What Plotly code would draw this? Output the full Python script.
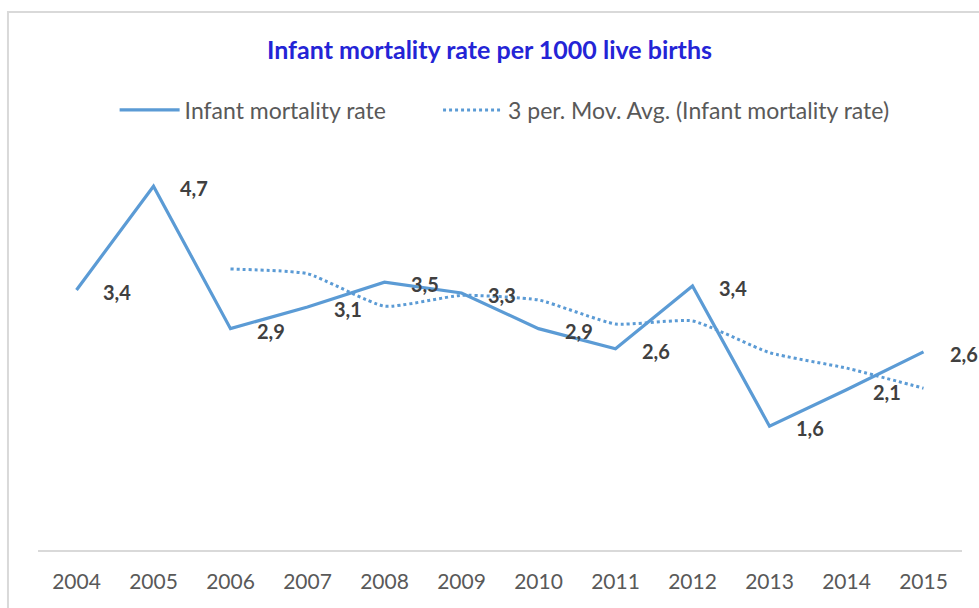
import plotly.graph_objects as go

years = ["2004", "2005", "2006", "2007", "2008", "2009",
         "2010", "2011", "2012", "2013", "2014", "2015"]
mortality = [3.36, 4.70, 2.86, 3.14, 3.46, 3.32, 2.86, 2.60, 3.41, 1.60, 2.07, 2.56]
# 3 per. moving average (first two years empty)
mov_avg_years = years[2:]
mov_avg = [3.63, 3.57, 3.15, 3.29, 3.23, 2.92, 2.96, 2.55, 2.35, 2.09]

BLUE = "#5b9bd5"
FONT = "Lato, Carlito, Calibri, sans-serif"

fig = go.Figure()

fig.add_trace(
    go.Scatter(
        x=years,
        y=mortality,
        mode="lines",
        name="Infant mortality rate" + "&nbsp;" * 8,
        line=dict(color=BLUE, width=3.2),
    )
)

fig.add_trace(
    go.Scatter(
        x=mov_avg_years,
        y=mov_avg,
        mode="lines",
        name="3 per. Mov. Avg. (Infant mortality rate)",
        line=dict(color=BLUE, width=3, dash="dot", shape="spline", smoothing=0.5),
    )
)

# data labels, decimal comma like the original
# (category index for x: "2004" would be read as a serial number)
for i, v in enumerate(mortality):
    fig.add_annotation(
        x=i,
        y=v,
        text=f"<b>{v:.1f}</b>".replace(".", ","),
        showarrow=False,
        xshift=40,
        yshift=-2,
        font=dict(family=FONT, size=20, color="#404040"),
    )

# light chart frame
fig.add_shape(
    type="rect",
    xref="paper",
    yref="paper",
    x0=-0.0325,
    x1=1.2,
    y0=-0.3,
    y1=1.39,
    line=dict(color="#d9d9d9", width=2),
    layer="below",
)

fig.update_layout(
    width=979,
    height=608,
    margin=dict(l=38, r=17, t=163, b=58),
    paper_bgcolor="white",
    plot_bgcolor="white",
    title=dict(
        text="<b>Infant mortality rate per 1000 live births</b>",
        x=0.5,
        xanchor="center",
        y=1 - 50 / 608,
        yanchor="middle",
        yref="container",
        font=dict(family=FONT, size=25, color="#2424d6"),
    ),
    legend=dict(
        orientation="h",
        x=0.505,
        xanchor="center",
        y=1.137,
        yanchor="middle",
        font=dict(family=FONT, size=23, color="#595959"),
        itemwidth=60,
        bgcolor="rgba(0,0,0,0)",
    ),
    xaxis=dict(
        type="category",
        range=[-0.5, 11.5],
        showline=True,
        linecolor="#d9d9d9",
        linewidth=1.5,
        showgrid=False,
        ticks="",
        ticklabelstandoff=12,
        tickfont=dict(family=FONT, size=21, color="#595959"),
    ),
    yaxis=dict(
        range=[0, 5],
        showgrid=False,
        zeroline=False,
        showticklabels=False,
        showline=False,
    ),
    showlegend=True,
)

fig.write_html(
    "out.html",
    config={"displayModeBar": False},
    post_script="document.body.style.margin='0px';",
)
